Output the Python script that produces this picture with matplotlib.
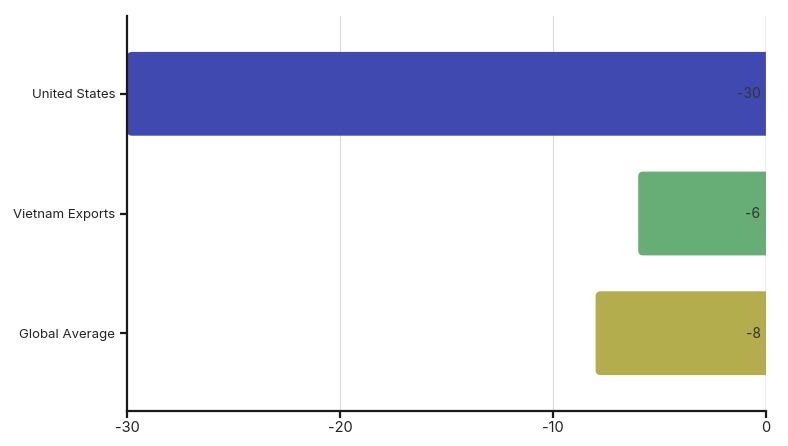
import matplotlib.pyplot as plt
from matplotlib.patches import FancyBboxPatch

plt.rcParams['font.family'] = ['Inter', 'DejaVu Sans']

categories = ['United States', 'Vietnam Exports', 'Global Average']
values = [-30, -6, -8]
colors = ['#4049b0', '#66ad76', '#b3ad4d']

fig = plt.figure(figsize=(7.88, 4.46), dpi=100)
ax = fig.add_axes([127 / 788, 35 / 446, 639 / 788, 395 / 446])

ypos = list(range(len(categories)))
bars = ax.barh(ypos, values, height=0.7, color=colors)
ax.set_xlim(-30, 0)
ax.set_ylim(2.65, -0.65)

# swap plain bars for rounded ones (right end hidden past zero)
xpx = 639 / 30
ypx = 395 / 3.3
r = 5 / xpx
for b in bars:
    x0, y0, w, h = b.get_x(), b.get_y(), b.get_width(), b.get_height()
    left = x0 + w if w < 0 else x0
    width = abs(w)
    p = FancyBboxPatch((left, y0), width + r * 2, h,
                       boxstyle='round,pad=0,rounding_size=%f' % r,
                       mutation_aspect=xpx / ypx,
                       facecolor=b.get_facecolor(), edgecolor='none',
                       clip_on=True, zorder=2)
    ax.add_patch(p)
    b.set_visible(False)

for y, v in zip(ypos, values):
    ax.annotate(str(v), (0, y), xytext=(-4, -0.5), textcoords='offset points',
                ha='right', va='center', fontsize=10, color='#333333', zorder=3)

ax.set_yticks(ypos)
ax.set_yticklabels(categories)
ax.set_xticks([-30, -20, -10, 0])
ax.set_xticklabels(['-30', '-20', '-10', '0'])

for x in [-20, -10]:
    ax.axvline(x, color='#d9d9d9', linewidth=0.8, zorder=0)
ax.axvline(0, color='#999999', linewidth=1.0, zorder=4)

for s in ['top', 'right']:
    ax.spines[s].set_visible(False)
for s in ['left', 'bottom']:
    ax.spines[s].set_linewidth(1.6)
    ax.spines[s].set_color('#1a1a1a')
ax.tick_params(axis='both', length=5, width=1.6, color='#1a1a1a',
               labelcolor='#222222')
ax.tick_params(axis='y', labelsize=9.5)
ax.tick_params(axis='x', labelsize=10.5, pad=2)

fig.savefig('out.png', dpi=100)
